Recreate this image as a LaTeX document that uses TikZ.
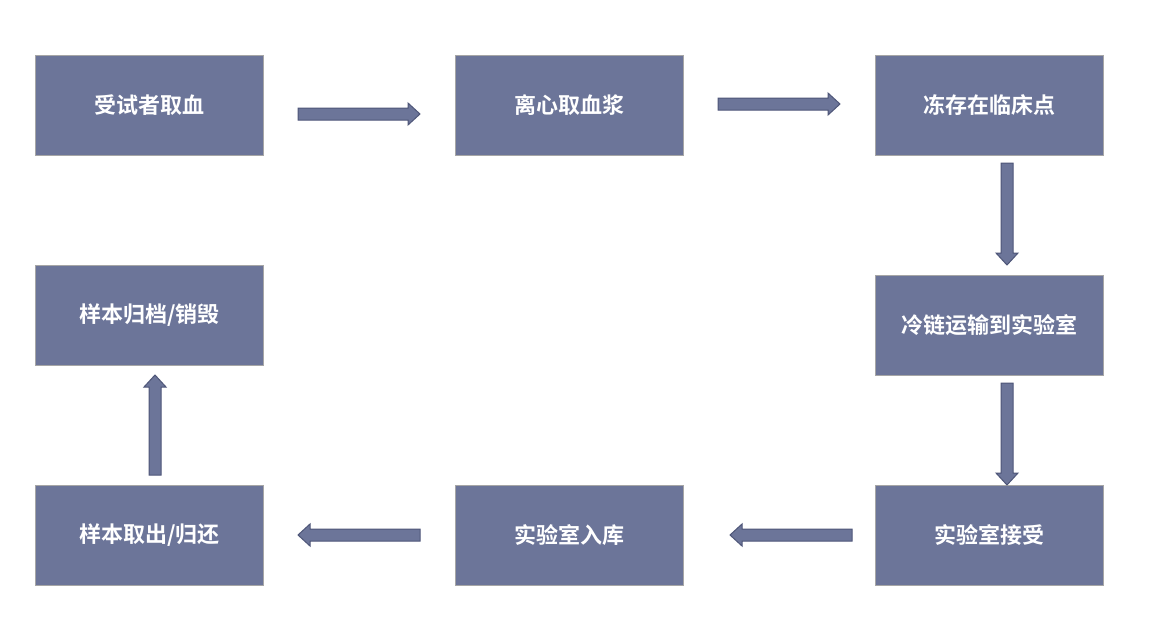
\documentclass[tikz,border=0pt]{standalone}
\usepackage{fontspec}
\newfontfamily\cjk{Noto Sans CJK SC}[BoldFont={* Bold}]
\begin{document}
\begin{tikzpicture}[x=1pt,y=-1pt,
  box/.style={draw=black!35,line width=1pt,fill=boxc,minimum width=228pt,minimum height=100pt,text width=200pt,align=center,font=\cjk\bfseries\fontsize{22}{40}\selectfont,text=white,anchor=north west,inner sep=0pt},
  blk/.style={fill=boxc,draw=boxd,line width=1pt}]
\definecolor{boxc}{HTML}{6C7599}
\definecolor{boxd}{HTML}{4E5678}
\useasboundingbox (0,0) rectangle (1149,632);
\node[box] (a) at (35,55) {受试者取血};
\node[box] (b) at (455,55) {离心取血浆};
\node[box] (c) at (875,55) {冻存在临床点};
\node[box] (d) at (875,275) {冷链运输到实验室};
\node[box] (e) at (875,485) {实验室接受};
\node[box] (f) at (455,485) {实验室入库};
\node[box] (g) at (35,485) {样本取出/归还};
\node[box] (h) at (35,265) {样本归档/销毁};
% right arrows
\draw[blk] (298,108)--(408,108)--(408,103)--(420,114)--(408,125)--(408,120)--(298,120)--cycle;
\draw[blk] (718,98)--(828,98)--(828,93)--(840,104)--(828,115)--(828,110)--(718,110)--cycle;
% down arrows
\draw[blk] (1001,163)--(1001,253)--(996,253)--(1007,265)--(1018,253)--(1013,253)--(1013,163)--cycle;
\draw[blk] (1001,383)--(1001,473)--(996,473)--(1007,485)--(1018,473)--(1013,473)--(1013,383)--cycle;
% left arrows
\draw[blk] (852,529)--(742,529)--(742,524)--(730,535)--(742,546)--(742,541)--(852,541)--cycle;
\draw[blk] (420,529)--(310,529)--(310,524)--(298,535)--(310,546)--(310,541)--(420,541)--cycle;
% up arrow
\draw[blk] (149,475)--(149,387)--(144,387)--(155,375)--(166,387)--(161,387)--(161,475)--cycle;
\end{tikzpicture}
\end{document}
